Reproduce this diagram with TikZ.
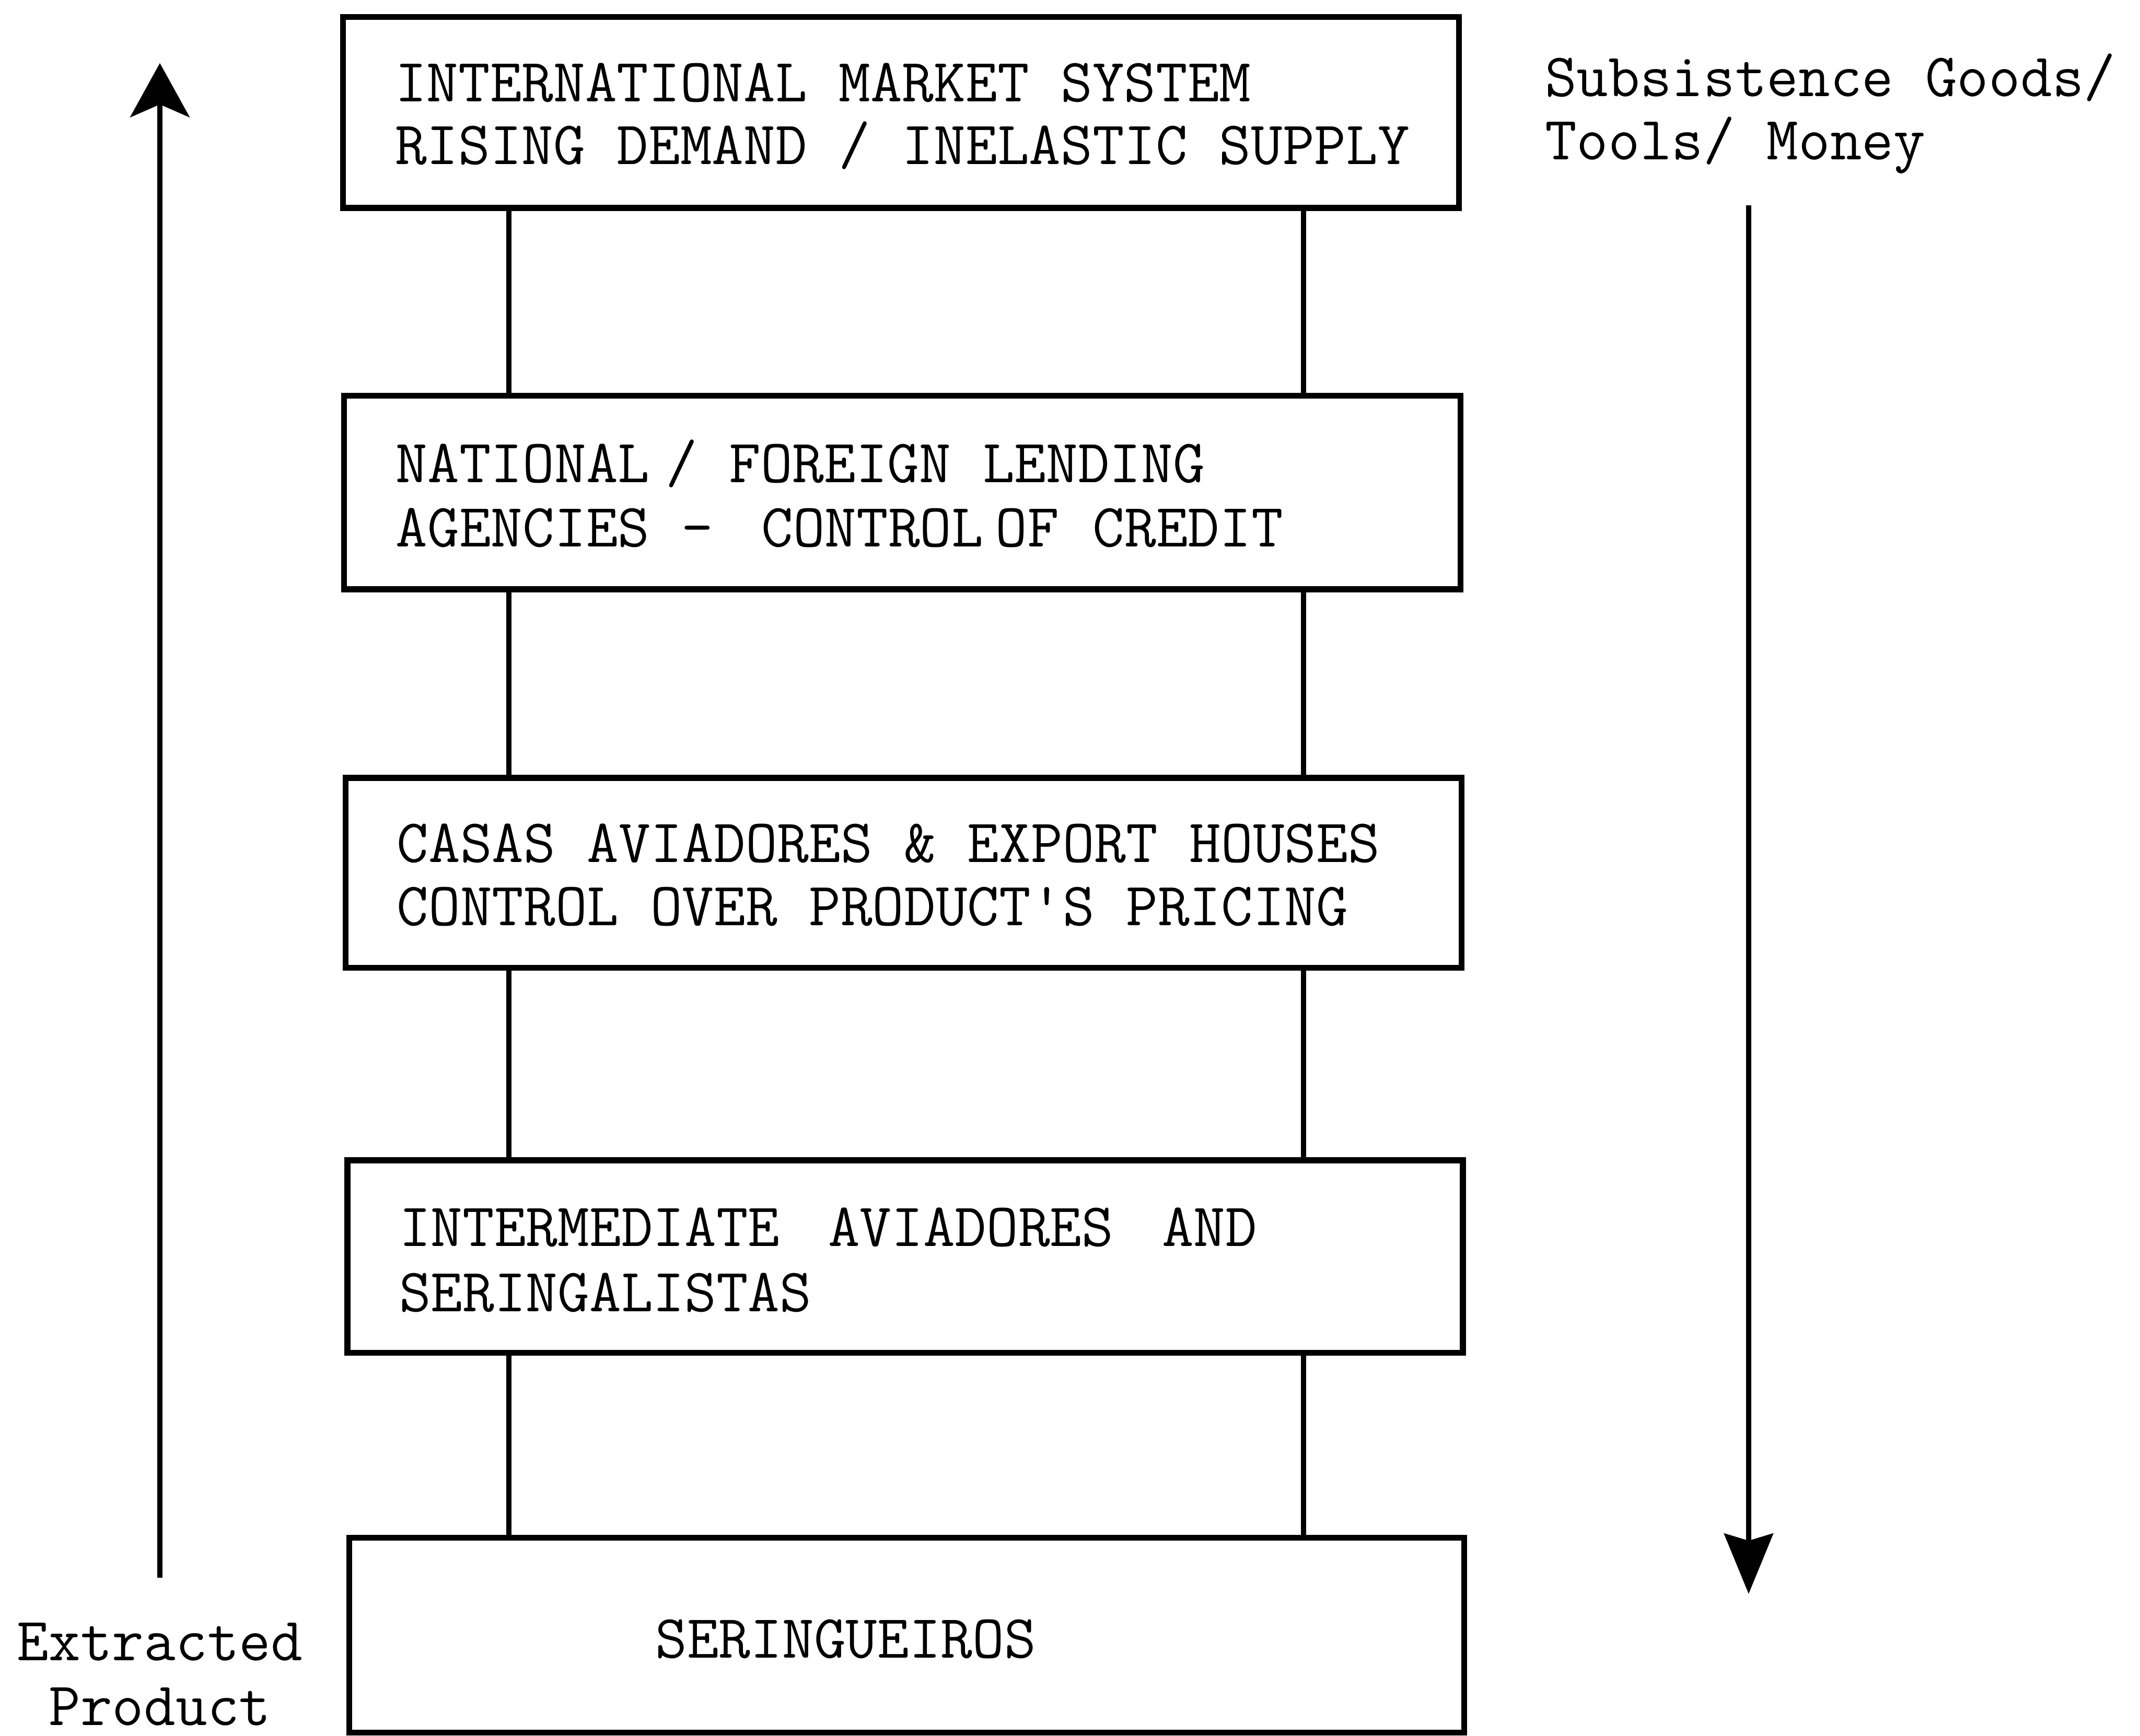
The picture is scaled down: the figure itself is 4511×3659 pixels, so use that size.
\documentclass[tikz,border=0pt]{standalone}
\usetikzlibrary{arrows.meta}
\begin{document}
\begin{tikzpicture}[x=0.01cm,y=-0.01cm,
  box/.style={draw,line width=0.125cm,inner sep=0pt,rectangle},
  conn/.style={line width=0.11cm},
  txt/.style={anchor=base west,inner sep=0pt,font=\ttfamily\fontsize{36.9}{45}\selectfont},
  ctxt/.style={anchor=base,inner sep=0pt,font=\ttfamily\fontsize{36.9}{45}\selectfont},
  uparrow/.style={line width=0.11cm,-{Stealth[length=1.14cm,width=1.25cm,inset=0.27cm]}},
  downarrow/.style={line width=0.11cm,-{Stealth[length=1.27cm,width=1.03cm,inset=0.15cm]}}]
\useasboundingbox (0,0) rectangle (4511,3659);
% boxes
\node[box,minimum width=23.51cm,minimum height=4.02cm] (b1) at (1899.5,237) {};
\node[box,minimum width=23.52cm,minimum height=4.08cm] (b2) at (1902,1038) {};
\node[box,minimum width=23.51cm,minimum height=4.00cm] (b3) at (1904.5,1840) {};
\node[box,minimum width=23.50cm,minimum height=4.06cm] (b4) at (1908,2649) {};
\node[box,minimum width=23.49cm,minimum height=4.10cm] (b5) at (1911.5,3447) {};
% connector columns
\coordinate (xL) at (1073,0);
\coordinate (xR) at (2748,0);
\draw[conn] (b1.south -| xL) -- (b2.north -| xL);
\draw[conn] (b1.south -| xR) -- (b2.north -| xR);
\draw[conn] (b2.south -| xL) -- (b3.north -| xL);
\draw[conn] (b2.south -| xR) -- (b3.north -| xR);
\draw[conn] (b3.south -| xL) -- (b4.north -| xL);
\draw[conn] (b3.south -| xR) -- (b4.north -| xR);
\draw[conn] (b4.south -| xL) -- (b5.north -| xL);
\draw[conn] (b4.south -| xR) -- (b5.north -| xR);
% box texts
\node[txt] (t1a) at (832,214) {INTERNATIONAL MARKET SYSTEM};
\node[txt] (t1b) at (832,346) {RISING DEMAND / INELASTIC SUPPLY};
\node[txt] (t2a) at (834,1017) {NATIONAL\hspace{0.2625em}/ FOREIGN LENDING};
\node[txt] (t2b) at (834,1152) {AGENCIES -\hspace{0.7875em}CONTROL\hspace{0.2em}OF\hspace{0.55em}CREDIT};
\node[txt] (t3a) at (836,1818) {CASAS AVIADORES \& EXPORT HOUSES};
\node[txt] (t3b) at (836,1951) {CONTROL OVER PRODUCT\textquotesingle S PRICING};
\node[txt] (t4a) at (841,2627) {INTERMEDIATE\hspace{0.7875em}AVIADORES\hspace{0.7875em}AND};
\node[txt] (t4b) at (841,2765) {SERINGALISTAS};
\node[txt] (t5) at (1381,3495) {SERINGUEIROS};
% side labels
\node[txt] (r1) at (3256,203) {Subsistence Goods/};
\node[txt] (r2) at (3256,336) {Tools/ Money};
\node[ctxt] (l1) at (337,3500) {Extracted};
\node[ctxt] (l2) at (337,3637) {Product};
% flow arrows
\coordinate (la0) at (337,3326);
\coordinate (la1) at (337,133);
\draw[uparrow] (la0) -- (la1);
\coordinate (ra0) at (3686,433);
\coordinate (ra1) at (3686,3360);
\draw[downarrow] (ra0) -- (ra1);
\end{tikzpicture}
\end{document}
